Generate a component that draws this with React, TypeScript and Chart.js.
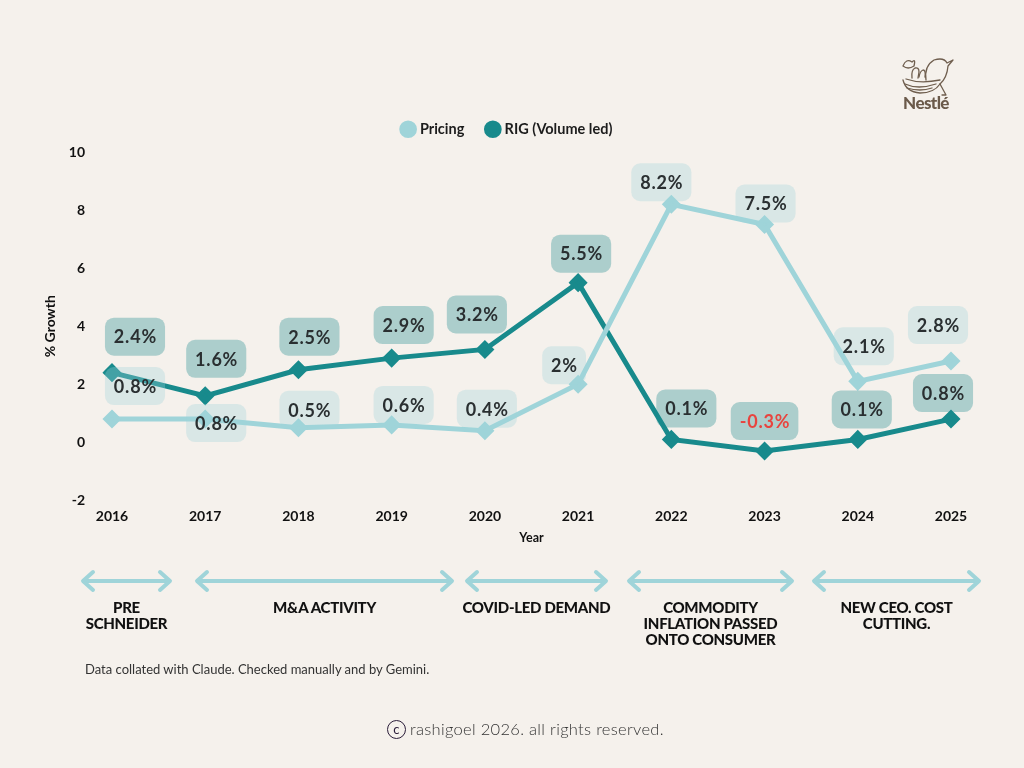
import React, { useEffect, useRef } from "react";
import { Chart, registerables } from "chart.js";

Chart.register(...registerables);

// ---------- data ----------
const years = ["2016", "2017", "2018", "2019", "2020", "2021", "2022", "2023", "2024", "2025"];
const pricing = [0.8, 0.8, 0.5, 0.6, 0.4, 2, 8.2, 7.5, 2.1, 2.8];
const rig = [2.4, 1.6, 2.5, 2.9, 3.2, 5.5, 0.1, -0.3, 0.1, 0.8];
const yMin = -2;
const yMax = 10;
const yStep = 2;
const seriesNames = ["Pricing", "RIG (Volume led)"];
const eraLabels = [
  ["PRE", "SCHNEIDER"],
  ["M&A ACTIVITY"],
  ["COVID-LED DEMAND"],
  ["COMMODITY", "INFLATION PASSED", "ONTO CONSUMER"],
  ["NEW CEO. COST", "CUTTING."],
];

// ---------- styling / layout (not data) ----------
const BG = "#f5f1ec";
const PRICING_COLOR = "#9fd4d9";
const RIG_COLOR = "#188a8c";
const FONT = "Lato, 'Open Sans', sans-serif";
// label box nudges relative to each point [dx, dy]
const pricingShift = [[23, -33], [11, 4], [11, -18], [12, -20], [2, -22], [-14, -19], [-10, -22], [1, -21], [6, -35], [-13, -36]];
const rigShift = [[23, -36], [11, -37], [11, -33], [12, -33], [-8, -35], [3, -29], [15, -31], [0, -30], [4, -30], [-8, -26]];
const eraArrows = [[83, 170], [197, 452], [467, 606], [629, 792], [814, 979]];

const valueBoxes = {
  id: "valueBoxes",
  afterDatasetsDraw(chart: any) {
    const ctx = chart.ctx;
    const specs = [
      { ds: 0, values: pricing, shifts: pricingShift, fill: "rgba(159,212,217,0.32)" },
      { ds: 1, values: rig, shifts: rigShift, fill: "rgba(24,138,140,0.33)" },
    ];
    ctx.save();
    ctx.font = `700 18px ${FONT}`;
    try {
      (ctx as any).letterSpacing = "0.8px";
    } catch (e) {}
    ctx.textAlign = "center";
    ctx.textBaseline = "middle";
    specs.forEach((s) => {
      const meta = chart.getDatasetMeta(s.ds);
      meta.data.forEach((pt: any, i: number) => {
        const text = `${s.values[i]}%`;
        const cx = pt.x + s.shifts[i][0];
        const cy = pt.y + s.shifts[i][1];
        const w = ctx.measureText(text).width + 17;
        const h = 38;
        ctx.beginPath();
        ctx.roundRect(cx - w / 2, cy - h / 2, w, h, 9);
        ctx.fillStyle = s.fill;
        ctx.fill();
        ctx.fillStyle = s.values[i] < 0 ? "#e8443f" : "#2a2f31";
        ctx.fillText(text, cx + 0.4, cy + 1);
      });
    });
    ctx.restore();
  },
};

const legendTweak = {
  id: "legendTweak",
  beforeInit(chart: any) {
    const legend = chart.legend;
    if (!legend) return;
    const origFit = legend.fit;
    legend.fit = function () {
      origFit.call(this);
      this.height = 54;
    };
    const origDraw = legend.draw;
    legend.draw = function () {
      const l = this.left;
      const r = this.right;
      this.left = l + 15;
      this.right = r + 15;
      origDraw.call(this);
      this.left = l;
      this.right = r;
    };
  },
};

function ChartCanvas() {
  const ref = useRef<HTMLCanvasElement | null>(null);
  useEffect(() => {
    if (!ref.current) return;
    const chart = new Chart(ref.current, {
      type: "line",
      data: {
        labels: years,
        datasets: [
          {
            label: seriesNames[0],
            data: pricing,
            borderColor: PRICING_COLOR,
            backgroundColor: PRICING_COLOR,
            borderWidth: 5,
            pointStyle: "rectRot",
            pointRadius: 6,
            pointBackgroundColor: PRICING_COLOR,
            pointBorderColor: PRICING_COLOR,
            tension: 0,
          },
          {
            label: seriesNames[1],
            data: rig,
            borderColor: RIG_COLOR,
            backgroundColor: RIG_COLOR,
            borderWidth: 5,
            pointStyle: "rectRot",
            pointRadius: 6,
            pointBackgroundColor: RIG_COLOR,
            pointBorderColor: RIG_COLOR,
            tension: 0,
          },
        ],
      },
      options: {
        responsive: false,
        animation: false,
        layout: { padding: { top: 98, left: 35, right: 73, bottom: 225 } },
        plugins: {
          legend: {
            position: "top",
            labels: {
              usePointStyle: true,
              pointStyle: "circle",
              boxWidth: 9,
              boxHeight: 9,
              padding: 24,
              color: "#1c1c1c",
              font: { family: FONT, size: 14.5, weight: "bold" },
            },
          },
          tooltip: { enabled: false },
        },
        scales: {
          x: {
            offset: false,
            grid: { display: false, drawTicks: false },
            border: { display: false },
            ticks: {
              color: "#111",
              padding: 9,
              font: { family: FONT, size: 14, weight: "bold", lineHeight: 1 },
              maxRotation: 0,
            },
            title: {
              display: true,
              text: "Year",
              color: "#111",
              padding: { top: 0, bottom: 0 },
              font: { family: FONT, size: 12.5, weight: "bold", lineHeight: 0.85 },
            },
          },
          y: {
            min: yMin,
            max: yMax,
            grid: { display: false, drawTicks: false },
            border: { display: false },
            ticks: {
              stepSize: yStep,
              color: "#111",
              padding: 27,
              font: { family: FONT, size: 14, weight: "bold" },
            },
            title: {
              display: true,
              text: "% Growth",
              color: "#111",
              padding: { top: 7, bottom: 0 },
              font: { family: FONT, size: 14, weight: "bold" },
            },
            afterFit(scale: any) {
              scale.width = 77;
            },
          },
        },
      },
      plugins: [legendTweak, valueBoxes],
    } as any);
    return () => chart.destroy();
  }, []);
  return <canvas ref={ref} width={1024} height={768} style={{ position: "absolute", left: 0, top: 0 }} />;
}

function Arrow({ x1, x2, y }: { x1: number; x2: number; y: number }) {
  const hx = 10;
  const hy = 9;
  return (
    <g stroke={PRICING_COLOR} strokeWidth={4} strokeLinecap="round" strokeLinejoin="round" fill="none">
      <line x1={x1 + 1} y1={y} x2={x2 - 1} y2={y} />
      <polyline points={`${x1 + hx},${y - hy} ${x1},${y} ${x1 + hx},${y + hy}`} />
      <polyline points={`${x2 - hx},${y - hy} ${x2},${y} ${x2 - hx},${y + hy}`} />
    </g>
  );
}

export default function App() {
  const arrowY = 581;
  return (
    <div
      style={{
        position: "absolute",
        left: 0,
        top: 0,
        width: 1024,
        height: 768,
        background: BG,
        overflow: "hidden",
        fontFamily: FONT,
      }}
    >
      <ChartCanvas />
      <svg width={1024} height={768} style={{ position: "absolute", left: 0, top: 0, pointerEvents: "none" }}>
        {eraArrows.map(([a, b], i) => (
          <Arrow key={i} x1={a} x2={b} y={arrowY} />
        ))}
        {/* Nestlé nest emblem (simplified) */}
        <g stroke="#6f5e4e" strokeWidth={1.3} fill="none" strokeLinecap="round" strokeLinejoin="round">
          <path d="M903 80 Q906 92 920 93 Q934 93 940 84" />
          <path d="M905 84 Q918 90 936 84" />
          <path d="M907 88 Q920 92 932 88" />
          <path d="M906 79 Q920 84 940 80" />
          <path d="M926 80 Q924 66 934 60 Q944 57 947 63 L953 60 L948 66 Q947 78 940 84" />
          <path d="M940 84 L946 95 L942 95" />
          <path d="M912 78 Q911 70 915 68 Q919 67 919 72 L918 78" />
          <path d="M919 77 Q920 71 923 70 Q926 70 925 77" />
          <path d="M903 66 Q906 58 912 62 Q916 58 914 66 Q908 70 903 66 Z" />
        </g>
      </svg>
      <div
        style={{
          position: "absolute",
          left: 891,
          top: 94,
          width: 70,
          textAlign: "center",
          color: "#6b5a4a",
          fontWeight: 900,
          fontSize: 17,
          letterSpacing: -0.6,
          lineHeight: "18px",
        }}
      >
        Nestlé
      </div>
      {eraLabels.map((lines, i) => {
        const [a, b] = eraArrows[i];
        const cx = (a + b) / 2;
        return (
          <div
            key={i}
            style={{
              position: "absolute",
              left: cx - 100,
              top: 599,
              width: 200,
              textAlign: "center",
              fontWeight: 900,
              fontSize: 15,
              lineHeight: "16px",
              color: "#111",
              letterSpacing: -0.3,
            }}
          >
            {lines.map((l, j) => (
              <div key={j}>{l}</div>
            ))}
          </div>
        );
      })}
      <div
        style={{
          position: "absolute",
          left: 85,
          top: 661,
          fontSize: 13,
          color: "#333",
          whiteSpace: "nowrap",
        }}
      >
        Data collated with Claude. Checked manually and by Gemini.
      </div>
      <div
        style={{
          position: "absolute",
          left: 387,
          top: 719,
          display: "flex",
          alignItems: "center",
          color: "#333",
          fontSize: 16.5,
          fontWeight: 300,
          whiteSpace: "nowrap",
          letterSpacing: 0.3,
        }}
      >
        <span
          style={{
            display: "inline-flex",
            alignItems: "center",
            justifyContent: "center",
            width: 17,
            height: 17,
            borderRadius: "50%",
            border: "1.6px solid #2a1c38",
            fontSize: 13,
            fontWeight: 400,
            color: "#2a1c38",
            marginRight: 4,
            lineHeight: "17px",
          }}
        >
          c
        </span>
        rashigoel 2026. all rights reserved.
      </div>
    </div>
  );
}
